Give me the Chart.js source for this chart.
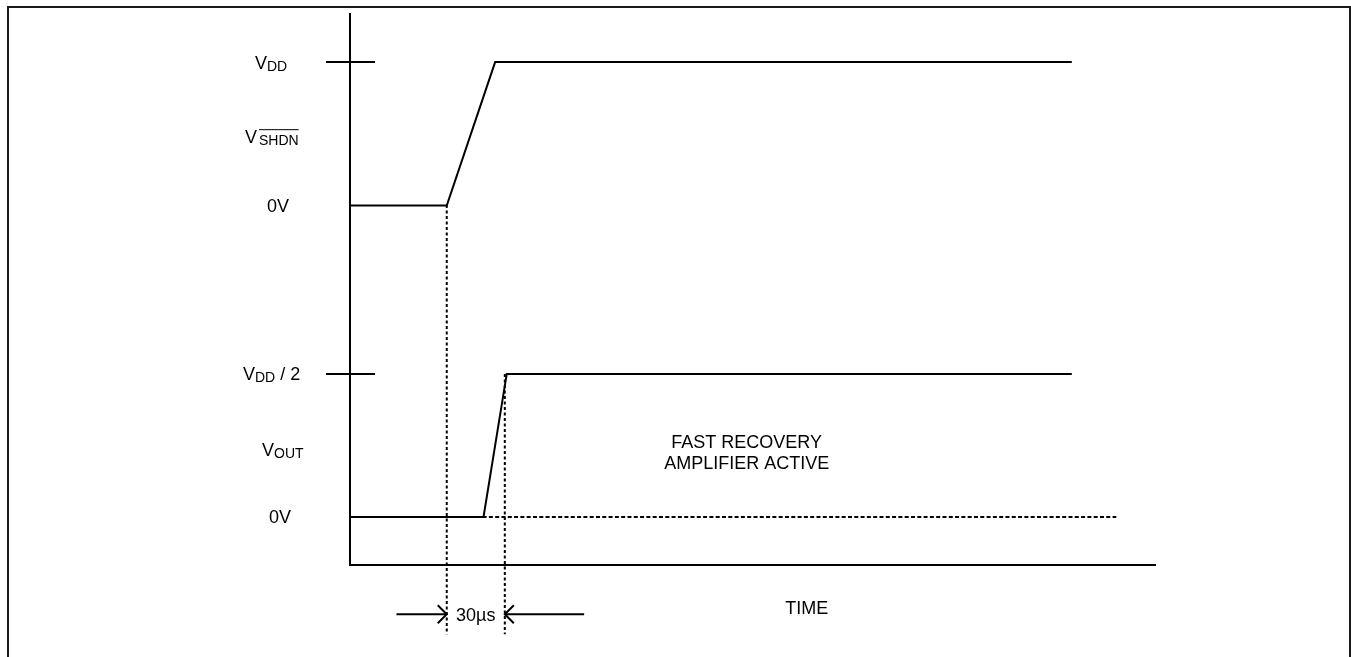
<!DOCTYPE html>
<html>
<head>
<meta charset="utf-8">
<title>SHDN recovery timing</title>
<script src="https://cdn.jsdelivr.net/npm/chart.js@4.4.1/dist/chart.umd.min.js"></script>
<style>
  html, body { margin: 0; padding: 0; background: #fff; overflow: hidden; }
  #wrap { position: relative; width: 1351px; height: 657px; }
  #frame {
    position: absolute; left: 7px; top: 6px; width: 1344px; height: 700px;
    box-sizing: border-box; border: 2px solid #1a1a1a; border-bottom: none;
  }
  canvas { position: absolute; left: 0; top: 0; }
</style>
</head>
<body>
<div id="wrap">
  <div id="frame"></div>
  <canvas id="timing" width="1351" height="657"></canvas>
</div>
<script>
// time in µs, levels as a fraction of VDD
const shdnTime = [0, 50, 75, 373];
const shdnLevel = [0, 0, 1, 1];
const voutTime = [0, 69, 81, 373];
const voutLevel = [0, 0, 0.5, 0.5];
const zeroRefTime = [62, 396];          // dotted 0V reference of VOUT
const markerTime = [50, 80];            // SHDN edge and VOUT settled
const markerTop = [1.09, 0.5];          // on the VOUT scale
const markerBottom = -0.41;
const dimTails = [24, 121];             // arrow tails of the 30µs dimension
const dimLevel = -0.34;
const dimText = '30µs';
const timeMax = 416;

// level labels on the left of the axis
const levelAxis = ['yS', 'yS', 'yS', 'yO', 'yO', 'yO'];
const levelValue = [1, 0.48, 0, 0.5, 0.234, 0];
const levelMain = ['V', 'V', '0V', 'V', 'V', '0V'];
const levelSub = ['DD', 'SHDN', '', 'DD', 'OUT', ''];
const levelTail = ['', '', '', ' / 2', '', ''];
const levelTick = [true, false, false, true, false, false];

const noteLines = ['FAST RECOVERY', 'AMPLIFIER ACTIVE'];
const noteTime = 205;
const noteLevel = [0.262, 0.192];
const axisTitle = 'TIME';
const axisTitleTime = 236;
const axisTitleLevel = -0.315;

// layout (pixels), kept apart from the data
const labelDx = [-95, -105, -83, -107, -88, -81];
const FONT = '"Liberation Sans", Arial, sans-serif';
const MAIN_FONT = '18px ' + FONT;
const SUB_FONT = '14px ' + FONT;

function pts(xs, ys) {
    return xs.map((x, i) => ({ x: x, y: Array.isArray(ys) ? ys[i] : ys }));
}

const solid = {
    borderColor: '#000', borderWidth: 2, pointRadius: 0,
    showLine: true, fill: false, tension: 0, borderJoinStyle: 'miter'
};
const dotted = Object.assign({}, solid, { borderDash: [3, 2.5], clip: false });

const datasets = [
    Object.assign({ label: 'SHDN', data: pts(shdnTime, shdnLevel), yAxisID: 'yS' }, solid),
    Object.assign({ label: 'VOUT', data: pts(voutTime, voutLevel), yAxisID: 'yO' }, solid),
    Object.assign({ label: '0V ref', data: pts(zeroRefTime, 0), yAxisID: 'yO' }, dotted, { borderDash: [4, 2.3] }),
    Object.assign({ label: 'marker 1', data: pts([markerTime[0], markerTime[0]], [markerTop[0], markerBottom]), yAxisID: 'yO' }, dotted),
    Object.assign({ label: 'marker 2', data: pts([markerTime[1], markerTime[1]], [markerTop[1], markerBottom]), yAxisID: 'yO' }, dotted),
    Object.assign({ label: 'dim left', data: pts([dimTails[0], markerTime[0]], dimLevel), yAxisID: 'yO' }, solid, { clip: false }),
    Object.assign({ label: 'dim right', data: pts([markerTime[1], dimTails[1]], dimLevel), yAxisID: 'yO' }, solid, { clip: false })
];

function drawRich(ctx, x, y, main, sub, tail, overline) {
    ctx.font = MAIN_FONT;
    ctx.fillText(main, x, y);
    x += ctx.measureText(main).width;
    if (sub) {
        if (overline) x += 2;
        ctx.font = SUB_FONT;
        ctx.fillText(sub, x, y + 2);
        const w = ctx.measureText(sub).width;
        if (overline) {
            ctx.lineWidth = 1;
            ctx.beginPath();
            ctx.moveTo(x, y - 13.5);
            ctx.lineTo(x + w, y - 13.5);
            ctx.stroke();
        }
        x += w;
    }
    if (tail) {
        ctx.font = MAIN_FONT;
        ctx.fillText(tail, x, y);
    }
}

function arrowHead(ctx, x, y, dir) {
    ctx.beginPath();
    ctx.moveTo(x - dir * 9, y - 9);
    ctx.lineTo(x, y);
    ctx.lineTo(x - dir * 9, y + 9);
    ctx.stroke();
}

const annotations = {
    id: 'annotations',
    afterDatasetsDraw(chart) {
        const ctx = chart.ctx;
        const xs = chart.scales.x;
        const axisX = xs.getPixelForValue(0);
        ctx.save();
        ctx.fillStyle = '#000';
        ctx.strokeStyle = '#000';
        ctx.textBaseline = 'alphabetic';

        // level labels and tick marks
        levelValue.forEach((v, i) => {
            const y = chart.scales[levelAxis[i]].getPixelForValue(v);
            if (levelTick[i]) {
                ctx.lineWidth = 2;
                ctx.beginPath();
                ctx.moveTo(axisX - 24, y);
                ctx.lineTo(axisX + 25, y);
                ctx.stroke();
            }
            ctx.textAlign = 'left';
            drawRich(ctx, axisX + labelDx[i], y + 6.5, levelMain[i], levelSub[i], levelTail[i], levelSub[i] === 'SHDN');
        });

        const yO = chart.scales.yO;
        ctx.font = MAIN_FONT;
        ctx.textAlign = 'center';
        noteLines.forEach((t, i) => {
            ctx.fillText(t, xs.getPixelForValue(noteTime), yO.getPixelForValue(noteLevel[i]) + 6.5);
        });
        ctx.fillText(axisTitle, xs.getPixelForValue(axisTitleTime), yO.getPixelForValue(axisTitleLevel) + 6.5);

        // 30µs dimension
        const dy = yO.getPixelForValue(dimLevel);
        const x1 = xs.getPixelForValue(markerTime[0]);
        const x2 = xs.getPixelForValue(markerTime[1]);
        ctx.fillText(dimText, (x1 + x2) / 2, dy + 6.5);
        ctx.lineWidth = 2;
        arrowHead(ctx, x1, dy, 1);
        arrowHead(ctx, x2, dy, -1);
        ctx.restore();
    }
};

const hiddenAxis = {
    grid: { display: false },
    ticks: { display: false },
    border: { display: true, color: '#000', width: 2 }
};

new Chart(document.getElementById('timing'), {
    type: 'scatter',
    data: { datasets: datasets },
    options: {
        responsive: false,
        animation: false,
        devicePixelRatio: 1,
        events: [],
        layout: { padding: { left: 350, right: 196, top: 14, bottom: 92 } },
        plugins: { legend: { display: false }, tooltip: { enabled: false } },
        scales: {
            x: Object.assign({ type: 'linear', min: 0, max: timeMax, afterFit(s) { s.height = 0; } }, hiddenAxis),
            // left stacked scales: the later one is placed on top
            yO: Object.assign({ type: 'linear', position: 'left', stack: 'levels', stackWeight: 1,
                min: -0.168, max: 0.795, afterFit(s) { s.width = 0; } }, hiddenAxis),
            yS: Object.assign({ type: 'linear', position: 'left', stack: 'levels', stackWeight: 1,
                min: -0.585, max: 1.335, afterFit(s) { s.width = 0; } }, hiddenAxis)
        }
    },
    plugins: [annotations]
});
</script>
</body>
</html>
